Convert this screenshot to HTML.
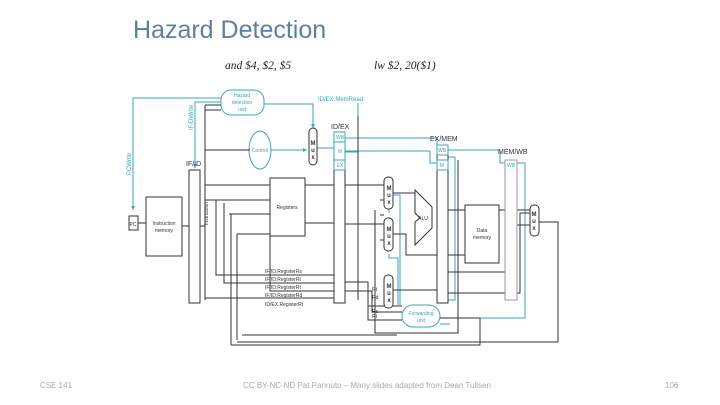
<!DOCTYPE html>
<html><head><meta charset="utf-8"><style>
html,body{margin:0;padding:0;background:#fff;}
body{width:720px;height:405px;overflow:hidden;position:relative;}
svg{position:absolute;left:0;top:0;}
</style></head><body>
<svg width="720" height="405" viewBox="0 0 720 405" xmlns="http://www.w3.org/2000/svg" font-family="Liberation Sans, sans-serif">
<defs>
<marker id="a" markerWidth="4" markerHeight="4" refX="4" refY="2" orient="auto"><path d="M0,0L4,2L0,4z" fill="#333"/></marker>
<marker id="b" markerWidth="4" markerHeight="4" refX="4" refY="2" orient="auto"><path d="M0,0L4,2L0,4z" fill="#3aa6c0"/></marker>
</defs>
<text x="133" y="38" font-size="25" fill="#5a7fa8">Hazard Detection</text>
<text x="225" y="69" font-size="11.5" font-style="italic" font-family="Liberation Serif, serif" fill="#222">and $4, $2, $5</text>
<text x="374" y="69" font-size="11.5" font-style="italic" font-family="Liberation Serif, serif" fill="#222">lw $2, 20($1)</text>

<g fill="none" stroke="#3aa6c0" stroke-width="1">
<path d="M221,98 H133 V210" marker-end="url(#b)"/>
<path d="M221,102 H195 V168" marker-end="url(#b)"/>
<path d="M264,104 H313 V128" marker-end="url(#b)"/>
<path d="M358,103 V152 H334" />
<path d="M270,150 H307" marker-end="url(#b)"/>
<path d="M317,148 H334"/>
<path d="M345,138 H437 V150 M345,151 H430 V163 H437"/>
<path d="M448,150 H500 V163 H505"/>
<path d="M448,157 H455 V300 H440"/>
<path d="M517,163 H525 V318 H440"/>
<path d="M389,213 V195 H400 V305"/>
<path d="M389,254 V258 H398 V305"/>
<path d="M440,324 H450"/>
</g>
<g fill="#fff" stroke="#3aa6c0">
<rect x="221" y="90" width="43" height="25" rx="10"/>
<ellipse cx="260" cy="150" rx="11" ry="19"/>
<rect x="402" y="305" width="38" height="22" rx="11"/>
</g>
<g font-size="5" fill="#3aa6c0" text-anchor="middle">
<text x="242" y="97">Hazard</text><text x="242" y="104">detection</text><text x="242" y="111">unit</text>
<text x="260" y="152">Control</text>
<text x="421" y="315">Forwarding</text><text x="421" y="322">unit</text>
</g>
<text x="318" y="101" font-size="6" fill="#3aa6c0">ID/EX.MemRead</text>
<text x="131" y="175" font-size="6" fill="#3aa6c0" transform="rotate(-90 131 175)">PCWrite</text>
<text x="193" y="130" font-size="6" fill="#3aa6c0" transform="rotate(-90 193 130)">IF/DWrite</text>

<g fill="none" stroke="#333" stroke-width="1">
<path d="M138,223 H146 M182,226 H189 M200,226 H205"/>
<path d="M205,105 V300 M205,105 H221 M205,110 H221 M205,150 H250 M205,185 H270 M205,200 H270"/>
<path d="M216,200 V275 H334 M224,203 V283 H334 M229,214 H270 V291 H334 M237,234 H270 M205,298 H334"/>
<path d="M231,214 V345 M237,234 V340"/>
<path d="M305,185 H334 M305,223 H334 M345,185 H384 M345,224 H384 M393,193 H415 M393,234 H406 V255 H465"/>
<path d="M345,282 H368 V320 H402 M368,306 H402 M345,291 H372 V312 H402"/>
<path d="M393,290 H437 M448,210 H465 M499,210 H530 M448,293 H520 V213 H530 M448,272 H515 V225 H530"/>
<path d="M242,335 H397"/>
<path d="M237,342 H558 V222 H539"/>
<path d="M231,345 H480 V318 H440"/>
<path d="M358,116 V300"/>
<path d="M375,210 V333 H458 V160"/>
<path d="M380,200 H384 M380,215 H384 M380,240 H384"/>
</g>
<g fill="#fff" stroke="#333" stroke-width="1">
<rect x="129" y="216" width="9" height="14"/>
<rect x="146" y="197" width="36" height="59"/>
<rect x="189" y="170" width="11" height="133"/>
<rect x="270" y="178" width="35" height="58"/>
<rect x="334" y="132" width="11" height="171"/>
<rect x="437" y="145" width="11" height="158"/>
<rect x="465" y="205" width="34" height="58"/>
<rect x="505" y="160" width="12" height="140" stroke="#999"/>
<rect x="309" y="128" width="8" height="37" rx="4"/>
<rect x="384" y="177" width="9" height="32" rx="4"/>
<rect x="384" y="218" width="9" height="33" rx="4"/>
<rect x="384" y="275" width="9" height="33" rx="4"/>
<rect x="530" y="205" width="9" height="31" rx="4"/>
<path d="M415,190 L432,207 V228 L415,245 V222 L420,218 L415,213 Z"/>
</g>
<g fill="#fff" stroke="#3aa6c0"><rect x="334" y="132" width="11" height="10"/><rect x="334" y="142" width="11" height="18"/><rect x="334" y="160" width="11" height="10"/><rect x="437" y="145" width="11" height="10"/><rect x="437" y="160" width="11" height="10"/></g>
<g font-size="5" fill="#333" text-anchor="middle">
<text x="133" y="226">PC</text>
<text x="164" y="225">Instruction</text><text x="164" y="232">memory</text>
<text x="287" y="209">Registers</text>
<text x="482" y="232">Data</text><text x="482" y="239">memory</text>
<text x="423" y="220">ALU</text>
<text x="313" y="145" font-weight="bold" font-size="6">M</text><text x="313" y="152" font-weight="bold" font-size="6">u</text><text x="313" y="159" font-weight="bold" font-size="6">x</text>
<text x="389" y="190" font-weight="bold" font-size="6">M</text><text x="389" y="197" font-weight="bold" font-size="6">u</text><text x="389" y="204" font-weight="bold" font-size="6">x</text>
<text x="389" y="231" font-weight="bold" font-size="6">M</text><text x="389" y="238" font-weight="bold" font-size="6">u</text><text x="389" y="245" font-weight="bold" font-size="6">x</text>
<text x="389" y="288" font-weight="bold" font-size="6">M</text><text x="389" y="295" font-weight="bold" font-size="6">u</text><text x="389" y="302" font-weight="bold" font-size="6">x</text>
<text x="534" y="216" font-weight="bold" font-size="6">M</text><text x="534" y="223" font-weight="bold" font-size="6">u</text><text x="534" y="230" font-weight="bold" font-size="6">x</text>
</g>
<g font-size="5" fill="#3aa6c0" text-anchor="middle"><text x="340" y="139">WB</text><text x="340" y="153">M</text><text x="340" y="167">EX</text><text x="442" y="152">WB</text><text x="442" y="167">M</text><text x="511" y="167">WB</text></g>
<g font-size="7" fill="#333"><text x="186" y="166">IF/ID</text><text x="331" y="129">ID/EX</text><text x="430" y="141">EX/MEM</text><text x="498" y="154">MEM/WB</text></g>
<text x="208" y="225" font-size="5" fill="#333" transform="rotate(-90 208 225)">Instruction</text>
<g font-size="5" fill="#333"><text x="265" y="273">IF/ID.RegisterRs</text><text x="265" y="281">IF/ID.RegisterRt</text><text x="265" y="289">IF/ID.RegisterRt</text><text x="265" y="297">IF/ID.RegisterRd</text><text x="265" y="306">ID/EX.RegisterRt</text>
<text x="372" y="291">Rt</text><text x="372" y="299">Rd</text><text x="372" y="313">Rs</text><text x="372" y="318">Rt</text></g>

<g font-size="8" fill="#aaa"><text x="40" y="388">CSE 141</text><text x="367" y="388" text-anchor="middle">CC BY-NC-ND Pat Pannuto – Many slides adapted from Dean Tullsen</text><text x="665" y="388">106</text></g>
</svg>
</body></html>
